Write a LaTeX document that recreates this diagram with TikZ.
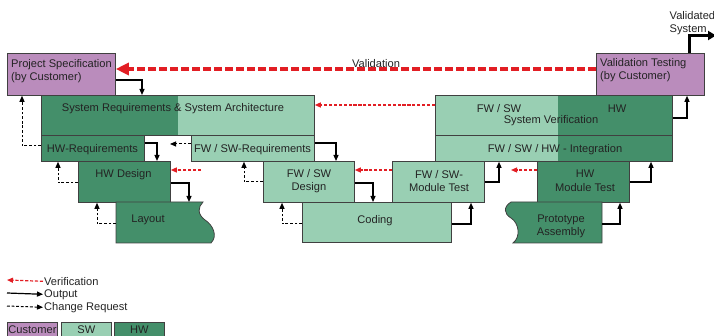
\documentclass[tikz,border=0pt]{standalone}
\usepackage{fontspec}
\setmainfont{Liberation Sans}
\usetikzlibrary{arrows.meta}
\definecolor{dk}{RGB}{68,143,106}
\definecolor{lt}{RGB}{153,207,179}
\definecolor{pu}{RGB}{186,140,188}
\definecolor{bd}{RGB}{64,64,64}
\definecolor{rd}{RGB}{226,30,36}
\definecolor{tx}{RGB}{35,35,35}
\newcommand{\fsz}{\fontsize{11.1pt}{13.3pt}\selectfont}
\begin{document}
\begin{tikzpicture}[x=1pt,y=-1pt,
  box/.style={draw=bd, line width=0.8pt, inner sep=0pt, anchor=north west},
  plain/.style={inner sep=0pt, anchor=north west},
  txt/.style={inner sep=0pt, text=tx, align=center, font=\fsz, yshift=-1.3pt},
  outarr/.style={-{Triangle[length=6pt,width=5pt]}, line width=1.2pt, black},
  crarr/.style={-{Triangle[length=6pt,width=5pt]}, line width=1pt, black, dash pattern=on 2.8pt off 1.8pt},
  verarr/.style={-{Triangle[length=6pt,width=5pt]}, line width=1.2pt, rd, dash pattern=on 3.2pt off 1.7pt},
  valarr/.style={-{Triangle[length=13pt,width=12pt]}, line width=3.2pt, rd, dash pattern=on 8pt off 3pt},
]
\useasboundingbox (0,0) rectangle (714,336);

% two-tone backgrounds
\fill[lt] (41,95) rectangle (314,135);
\fill[dk] (41,95) rectangle (178,135);
\fill[lt] (435,95) rectangle (558,161);
\fill[dk] (558,95) rectangle (672,161);

% boxes
\node[box, fill=pu, minimum width=108pt, minimum height=42pt] (pspec) at (7,53) {};
\node[box, fill=pu, minimum width=108pt, minimum height=42pt] (valtest) at (596,53) {};
\node[box, minimum width=273pt, minimum height=40pt] (sysreq) at (41,95) {};
\node[box, fill=dk, minimum width=103pt, minimum height=26pt] (hwreq) at (41,135) {};
\node[box, fill=lt, minimum width=123pt, minimum height=26pt] (swreq) at (191,135) {};
\node[box, fill=dk, minimum width=92pt, minimum height=41pt] (hwdes) at (78,161) {};
\node[box, fill=lt, minimum width=91pt, minimum height=41pt] (swdes) at (263,161) {};
\node[box, fill=lt, minimum width=149pt, minimum height=40pt] (coding) at (302,202) {};
\node[box, fill=lt, minimum width=92pt, minimum height=41pt] (swmt) at (392,161) {};
\node[box, minimum width=237pt, minimum height=40pt] (sysver) at (435,95) {};
\node[box, minimum width=237pt, minimum height=26pt] (integ) at (435,135) {};
\node[box, fill=dk, minimum width=92pt, minimum height=41pt] (hwmt) at (537,161) {};

% wavy shapes
\filldraw[fill=dk, draw=bd, line width=0.8pt]
  (116,202) -- (203,202)
  .. controls (198,207) and (197,214) .. (205,220)
  .. controls (213,225) and (218,236) .. (211,243)
  -- (116,243) -- cycle;
\node[plain, minimum width=95pt, minimum height=41pt] (layout) at (116,202) {};
\filldraw[fill=dk, draw=bd, line width=0.8pt]
  (602,202) -- (511,202)
  .. controls (503,207) and (504,214) .. (511,218)
  .. controls (519,223) and (521,237) .. (513,243)
  -- (602,243) -- cycle;
\node[plain, minimum width=91pt, minimum height=41pt] (proto) at (511,202) {};

% texts
\node[txt, anchor=west, align=left] (tpspec) at (11,69.5) {Project Specification\\(by Customer)};
\node[txt, anchor=west, align=left] (tvaltest) at (600,68.5) {Validation Testing\\(by Customer)};
\node[txt] (tsysreq) at (173,107) {System Requirements \& System Architecture};
\node[txt] (thwreq) at (92.5,148) {HW-Requirements};
\node[txt] (tswreq) at (252.5,148) {FW / SW-Requirements};
\node[txt] (thwdes) at (123.5,173) {HW Design};
\node[txt] (tlayout) at (148,219) {Layout};
\node[txt] (tswdes) at (309,180) {FW / SW\\Design};
\node[txt] (tcoding) at (375,219) {Coding};
\node[txt] (tswmt) at (439,179.5) {FW / SW-\\Module Test};
\node[txt] (tsv1) at (499,107) {FW / SW};
\node[txt] (tsv2) at (617,107) {HW};
\node[txt] (tsv3) at (551,119) {System Verification};
\node[txt] (tinteg) at (555,148) {FW / SW / HW - Integration};
\node[txt] (thwmt) at (585,179.5) {HW\\Module Test};
\node[txt] (tproto) at (561,225) {Prototype\\Assembly};
\node[txt] (tval) at (376,62) {Validation};
\node[txt, anchor=west, align=left] (tvsys) at (669.5,21.5) {Validated\\System};

% validation
\draw[valarr] (valtest.west |- 0,69) -- (pspec.east |- 0,69);

% verification arrows
\coordinate (c2) at (201,170);
\coordinate (c3) at (511,170);
\draw[verarr] (sysver.west |- 0,105) -- (sysreq.east |- 0,105);
\draw[verarr] (c2) -- (hwdes.east |- 0,170);
\draw[verarr] (swmt.west |- 0,170) -- (swdes.east |- 0,170);
\draw[verarr] (hwmt.west |- 0,170) -- (c3);

% output arrows
\draw[outarr] (pspec.east |- 0,80) -| (sysreq.north -| 142,0);
\draw[outarr] (hwreq.east |- 0,143) -| (hwdes.north -| 157,0);
\draw[outarr] (hwdes.east |- 0,183) -| (layout.north -| 189,0);
\draw[outarr] (swreq.east |- 0,143) -| (swdes.north -| 336,0);
\draw[outarr] (swdes.east |- 0,183) -| (coding.north -| 373,0);
\draw[outarr] (coding.east |- 0,224) -| (swmt.south -| 471,0);
\draw[outarr] (swmt.east |- 0,182) -| (integ.south -| 499,0);
\draw[outarr] (proto.east |- 0,224) -| (hwmt.south -| 620,0);
\draw[outarr] (hwmt.east |- 0,182) -| (integ.south -| 651,0);
\draw[outarr] (sysver.east |- 0,118) -| (valtest.south -| 687,0);
\coordinate (vsys) at (716,35.5);
\draw[-{Triangle[length=8pt,width=9pt]}, line width=3pt, black] (valtest.north -| 689,0) |- (vsys);

% change request arrows
\coordinate (c1) at (170,144);
\draw[crarr] (hwreq.west |- 0,146) -| (pspec.south -| 22,0);
\draw[crarr] (swreq.west |- 0,144) -- (c1);
\draw[crarr] (hwdes.west |- 0,183) -| (hwreq.south -| 58,0);
\draw[crarr] (layout.west |- 0,224) -| (hwdes.south -| 97,0);
\draw[crarr] (swdes.west |- 0,182) -| (swreq.south -| 244,0);
\draw[crarr] (coding.west |- 0,224) -| (swdes.south -| 282,0);

% legend
\node[txt, anchor=west, inner sep=1pt, yshift=0pt] (lver) at (43,280) {Verification};
\node[txt, anchor=west, inner sep=1pt, yshift=0pt] (lout) at (43,293) {Output};
\node[txt, anchor=west, inner sep=1pt, yshift=0pt] (lcr) at (43,306) {Change Request};
\coordinate (lv) at (7,280);
\coordinate (lo) at (7,293);
\coordinate (lc) at (7,306);
\draw[verarr] (lver.west) -- (lv);
\draw[outarr] (lo) -- (lout.west);
\draw[crarr] (lc) -- (lcr.west);
\node[box, fill=pu, minimum width=50pt, minimum height=14pt, txt, text=tx, yshift=0pt] (lcust) at (7,321) {Customer};
\node[box, fill=lt, minimum width=50pt, minimum height=14pt, txt, text=tx, yshift=0pt] (lsw) at (61,321) {SW};
\node[box, fill=dk, minimum width=50pt, minimum height=14pt, txt, text=tx, yshift=0pt] (lhw) at (114,321) {HW};
\end{tikzpicture}
\end{document}
